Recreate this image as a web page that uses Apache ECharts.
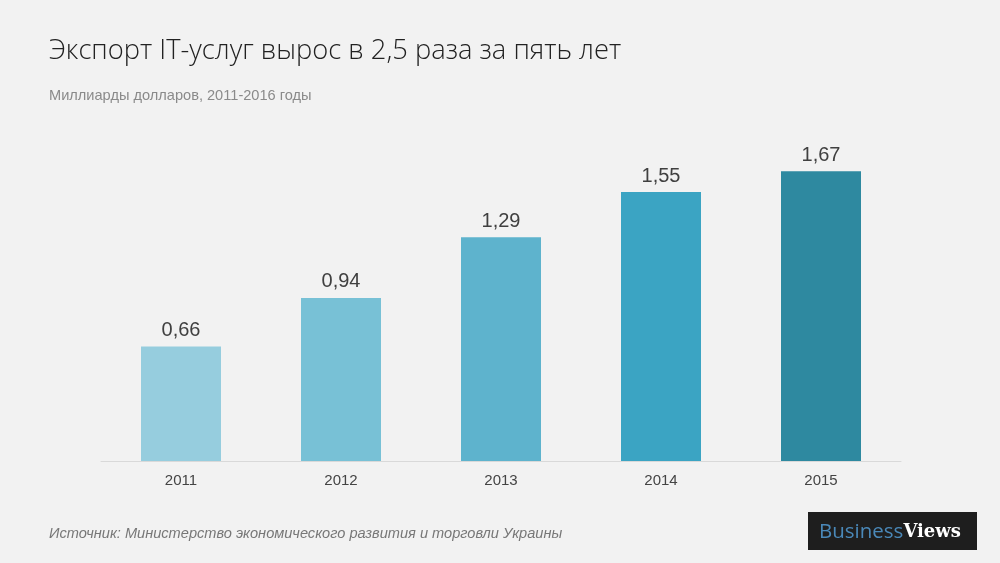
<!DOCTYPE html>
<html><head><meta charset="utf-8">
<script src="https://cdn.jsdelivr.net/npm/echarts@6/dist/echarts.min.js"></script>
<style>html,body{margin:0;padding:0;background:#f2f2f2}#c{width:1000px;height:563px}</style>
</head><body><div id="c"></div>
<script>
const categories = ['2011','2012','2013','2014','2015'];
const values = [0.66, 0.94, 1.29, 1.55, 1.67];
const barColors = ['#96cdde','#78c1d6','#5eb3cd','#3ba4c3','#2e89a0'];
const chart = echarts.init(document.getElementById('c'));
chart.setOption({
  backgroundColor: '#f2f2f2',
  animation: false,
  title: [
    {text: 'Экспорт IT-услуг вырос в 2,5 раза за пять лет', left: 44, top: 33,
     textStyle: {fontFamily: 'Open Sans', fontWeight: 300, fontSize: 27.3, color: '#222'}},
    {text: 'Миллиарды долларов, 2011-2016 годы', left: 44, top: 83,
     textStyle: {fontFamily: 'Liberation Sans', fontWeight: 'normal', fontSize: 14.6, color: '#8a8a8a'}},
    {text: 'Источник: Министерство экономического развития и торговли Украины', left: 44, top: 521,
     textStyle: {fontFamily: 'Liberation Sans', fontStyle: 'italic', fontWeight: 'normal', fontSize: 14.6, color: '#777'}}
  ],
  graphic: [
    {type: 'rect', shape: {x: 808, y: 512, width: 169, height: 38}, style: {fill: '#1e1e1e'}},
    {type: 'text', x: 819, y: 532, style: {rich: {a: {fontFamily: 'Open Sans', fontSize: 20.5, fill: '#4a88b8'}, b: {fontFamily: 'DejaVu Serif', fontWeight: 'bold', fontSize: 18, fill: '#fff'}}, text: '{a|Business}{b|Views}', verticalAlign: 'middle'}}
  ],
  grid: {left: 101, right: 99, top: 114, bottom: 102},
  xAxis: {type: 'category', data: categories,
    axisLine: {lineStyle: {color: '#d9d9d9', width: 1}}, axisTick: {show: false},
    axisLabel: {color: '#444', fontSize: 15, fontFamily: 'Liberation Sans', margin: 12}},
  yAxis: {type: 'value', min: 0, max: 2, show: false, splitLine: {show: false}},
  series: [{type: 'bar', barWidth: 80,
    data: values.map((v, i) => ({value: v, itemStyle: {color: barColors[i]}})),
    label: {show: true, position: 'top', distance: 6, fontSize: 20, color: '#404040', fontFamily: 'Liberation Sans',
      formatter: p => String(p.value).replace('.', ',')}
  }]
});
</script></body></html>
